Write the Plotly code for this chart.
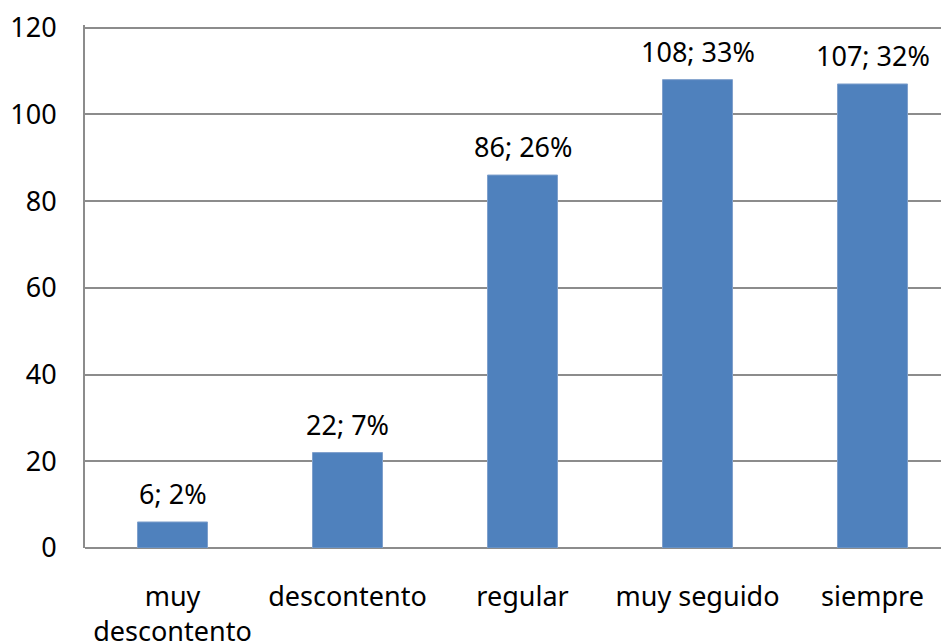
import plotly.graph_objects as go

categories = ["muy<br>descontento", "descontento", "regular", "muy seguido", "siempre"]
values = [6, 22, 86, 108, 107]
percents = [2, 7, 26, 33, 32]

FONT = "Noto Sans"
FS = 27
fig = go.Figure()
fig.add_trace(go.Bar(
    x=categories, y=values, width=0.4,
    marker=dict(color="#4F81BD", line=dict(color="#7FA0CC", width=1)),
    hoverinfo="skip",
))
for c, v, p in zip(categories, values, percents):
    fig.add_annotation(x=c, y=v, text=f"{v}; {p}%", showarrow=False,
                       yanchor="bottom", yshift=8,
                       font=dict(family=FONT, size=FS, color="black"))

# page body has an 8px margin; figure is sized to end at the window edge
fig.update_layout(
    width=941, height=634,
    margin=dict(l=77, r=0, t=17, b=94),
    paper_bgcolor="white", plot_bgcolor="white",
    showlegend=False,
    font=dict(family=FONT, size=FS, color="black"),
    xaxis=dict(range=[-0.5, 4.437], showgrid=False, showline=False,
               ticks="", ticklabelstandoff=30, automargin=False,
               tickfont=dict(family=FONT, size=FS)),
    yaxis=dict(range=[0, 120.6], dtick=20, showgrid=True, gridcolor="#8C8C8C",
               gridwidth=1.5, showline=True, linecolor="#8C8C8C", linewidth=2,
               zeroline=True, zerolinecolor="#8C8C8C", zerolinewidth=2,
               ticks="", ticklabelstandoff=21, automargin=False,
               tickfont=dict(family=FONT, size=FS)),
)
fig.write_html("out.html")
